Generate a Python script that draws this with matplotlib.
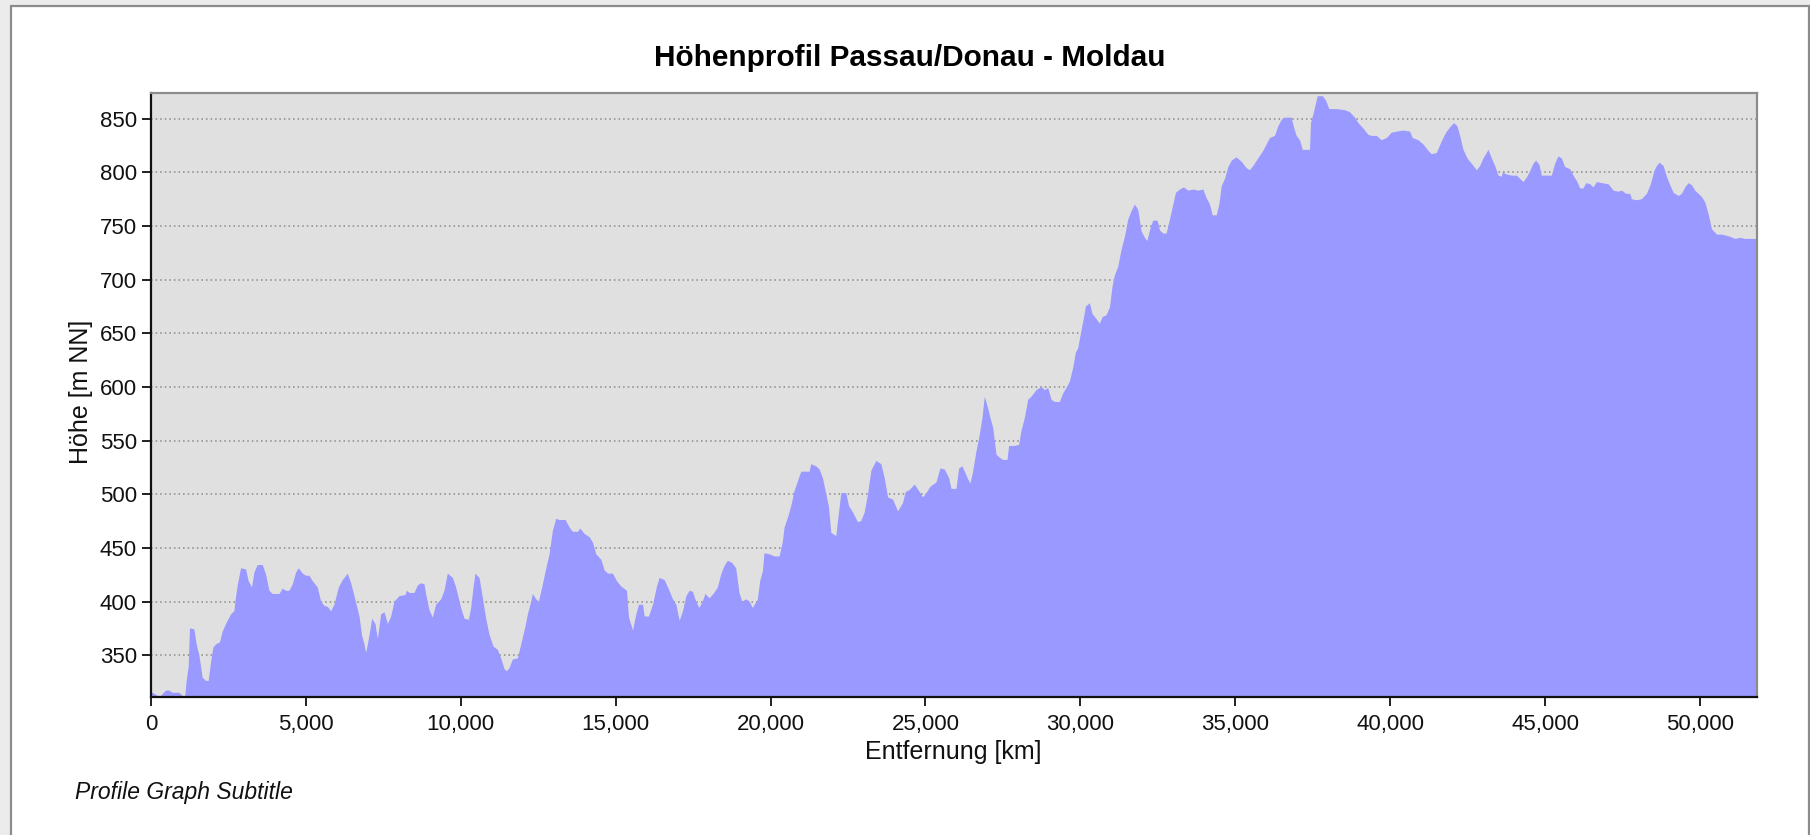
import matplotlib.pyplot as plt
from matplotlib.patches import Rectangle
from matplotlib.ticker import MultipleLocator, FuncFormatter

# Höhenprofil data
distance_km = [
    0, 214, 322, 484, 591, 699, 807, 914, 1022, 1108, 1151, 1216, 1259, 1399, 1474,
    1561, 1668, 1776, 1862, 1937, 2013, 2099, 2228, 2314, 2422, 2584, 2691, 2724,
    2799, 2907, 3068, 3154, 3262, 3338, 3445, 3607, 3715, 3822, 3930, 4145, 4253,
    4361, 4468, 4576, 4684, 4770, 4899, 5007, 5115, 5222, 5384, 5492, 5599, 5707,
    5815, 5922, 6062, 6192, 6353, 6461, 6569, 6730, 6816, 6892, 6946, 7000, 7075,
    7139, 7247, 7322, 7430, 7538, 7646, 7753, 7861, 8023, 8217, 8260, 8346, 8507,
    8615, 8723, 8830,
    8881, 8989, 9097, 9205, 9366, 9474, 9581, 9743, 9851, 10012, 10120, 10260,
    10335, 10411, 10475, 10605, 10691, 10820, 10928, 11057, 11197, 11305, 11412,
    11488, 11574, 11682, 11843, 11951, 12091, 12166, 12274, 12328, 12436, 12522,
    12629, 12737, 12866, 12974, 13082, 13189, 13383, 13513, 13620, 13782, 13857,
    13997, 14159, 14266, 14374, 14536, 14643, 14751, 14913, 15042, 15182, 15365,
    15430, 15559, 15667, 15753, 15882, 15936, 16076, 16205, 16334, 16420, 16582,
    16722, 16851, 16959, 17067, 17174, 17282, 17390, 17497,
    17597, 17704, 17812, 17898, 18028, 18157, 18297, 18405, 18512, 18620, 18760,
    18890, 18997, 19084, 19213, 19321, 19428, 19590, 19665, 19752, 19805, 19967,
    20129, 20291, 20398, 20452, 20560, 20668, 20775, 20883, 20991, 21260, 21314,
    21476, 21584, 21691, 21799, 21885, 21961, 22122, 22176, 22284, 22446, 22532,
    22661, 22823, 22930, 23038, 23146, 23254, 23415, 23577, 23685, 23793, 23954,
    24116, 24278, 24364, 24493, 24655, 24816, 24924, 25032, 25161, 25355, 25484,
    25625, 25765, 25840, 26002, 26088,
    26194, 26270, 26377, 26453, 26539, 26647, 26733, 26840, 26916, 27023, 27099,
    27185, 27293, 27400, 27508, 27648, 27702, 27885, 28025, 28100, 28208, 28316,
    28424, 28585, 28747, 28854, 28962, 29070, 29177, 29339, 29447, 29554, 29662,
    29770, 29856, 29931, 30039, 30114, 30179, 30308, 30394, 30502, 30631, 30718,
    30847, 30955, 31041, 31116, 31224, 31331, 31439, 31547, 31655, 31762, 31870,
    31978, 32085, 32161, 32268, 32354, 32494, 32570, 32678, 32785, 32893, 33001,
    33087, 33216, 33345, 33485, 33647, 33809, 33970, 34078, 34186, 34272, 34401,
    34487, 34562, 34670, 34778, 34886,
    35044, 35206, 35368, 35475, 35583, 35744, 35906, 36014, 36121, 36283, 36391,
    36498, 36606, 36821, 36897, 36983, 37091, 37177, 37414, 37446, 37522, 37597,
    37662, 37823, 37931, 38038, 38275, 38545, 38706, 38868, 38975, 39137, 39298,
    39406, 39568, 39729, 39891, 40052, 40214, 40429, 40645, 40731, 40914, 41076,
    41237, 41345, 41506, 41668, 41808, 41937, 42066, 42174, 42260, 42368, 42497,
    42637, 42799, 42907, 43014, 43176, 43284, 43391, 43499, 43607,
    43636, 43765, 43927, 44089, 44196, 44304, 44412, 44519, 44627, 44713, 44821,
    44896, 45219, 45327, 45435, 45542, 45650, 45812, 45919, 46049, 46135, 46243,
    46329, 46458, 46566, 46673, 46835, 47050, 47212, 47373, 47481, 47621, 47750,
    47804, 47966, 48127, 48289, 48418, 48526, 48612, 48698, 48827, 48935, 49043,
    49150, 49312, 49420, 49527, 49635, 49743, 49850, 49958, 50066, 50174, 50281,
    50389, 50551, 50712, 50852, 50981, 51143, 51304, 51466, 51843,
]
height_m = [
    316, 312, 312, 317, 317, 315, 315, 315, 312, 312, 326, 339, 375, 374, 360,
    350, 329, 326, 326, 343, 357, 360, 362, 372, 379, 388, 391, 400,
    415, 431, 430, 419, 413, 427, 434, 434, 425, 410, 407, 407, 412,
    410, 410, 416, 427, 431, 426, 424, 424, 419, 413, 400, 396, 395,
    391, 397, 413, 420, 426, 417, 405, 386, 368, 360, 352, 360, 372,
    384, 379, 365, 388, 390, 379, 386, 400, 405, 406, 410, 408, 408,
    415, 417, 416,
    407, 392, 385, 397, 402, 410, 426, 422, 413, 394, 384, 383,
    394, 413, 426, 422, 407, 384, 369, 358, 355, 347, 337,
    335, 338, 346, 347, 360, 377, 388, 400, 407, 402, 400,
    413, 428, 444, 466, 477, 476, 476, 469, 465, 465, 468,
    463, 460, 455, 444, 439, 429, 426, 426, 419, 414, 410,
    385, 373, 388, 397, 397, 386, 386, 397, 414, 422, 420,
    411, 402, 397, 382, 391, 405, 410, 409,
    400, 394, 400, 407, 403, 407, 413, 425, 433, 438, 436,
    431, 408, 400, 402, 400, 394, 402, 419, 428, 445, 444,
    442, 442, 456, 469, 478, 489, 503, 512, 521, 521, 528,
    526, 523, 515, 500, 488, 464, 461, 475, 501, 501, 489,
    483, 474, 475, 483, 500, 522, 531, 528, 515, 497, 495,
    484, 492, 502, 504, 509, 502, 497, 501, 507, 511, 524,
    523, 515, 505, 505, 524,
    526, 521, 514, 510, 521, 540, 552, 571, 591, 580, 571,
    562, 537, 534, 532, 532, 545, 545, 546, 559, 571, 588,
    591, 597, 600, 597, 599, 588, 586, 586, 594, 599, 605,
    618, 632, 636, 653, 664, 675, 678, 668, 664, 659, 665,
    667, 674, 694, 704, 712, 728, 740, 756, 764, 770, 765,
    745, 739, 736, 748, 755, 755, 746, 743, 743, 756, 770,
    781, 784, 786, 783, 784, 783, 784, 776, 770, 760, 760,
    770, 787, 794, 805, 811,
    814, 810, 804, 802, 806, 813, 820, 826, 832, 834, 843,
    849, 851, 851, 842, 834, 830, 821, 821, 846, 854, 863,
    871, 871, 867, 859, 859, 858, 856, 851, 846, 841, 835,
    834, 834, 830, 832, 837, 838, 839, 838, 832, 830, 826,
    820, 817, 818, 829, 837, 842, 846, 843, 834, 821, 813,
    808, 802, 806, 813, 821, 813, 806, 797, 796,
    800, 798, 797, 797, 794, 791, 795, 801, 808, 811, 807,
    797, 797, 808, 815, 813, 805, 803, 797, 791, 785, 785,
    790, 789, 786, 791, 790, 789, 783, 782, 783, 780, 780,
    775, 774, 775, 780, 789, 801, 806, 809, 806, 796, 788,
    781, 778, 780, 786, 790, 788, 783, 780, 777, 772, 761,
    747, 742, 742, 741, 740, 738, 739, 738, 738,
]

title = "Höhenprofil Passau/Donau - Moldau"
subtitle = "Profile Graph Subtitle"
x_label = "Entfernung [km]"
y_label = "Höhe [m NN]"

plt.rcParams["font.family"] = ["Liberation Sans", "DejaVu Sans"]

W, H = 1810, 835
fig = plt.figure(figsize=(W / 100, H / 100), dpi=100)
fig.patch.set_facecolor("#ececec")

# white panel with grey frame, kept behind the axes
fig.patches.append(Rectangle((11 / W, -0.05), 1798 / W, 1.05 - 6 / H,
                             transform=fig.transFigure, facecolor="white",
                             edgecolor="#8c8c8c", linewidth=1.6, zorder=-10))

ax = fig.add_axes([151 / W, 1 - 697 / H, (1757 - 151) / W, (697 - 93) / H])
ax.set_zorder(5)
ax.set_facecolor("#e0e0e0")
ax.fill_between(distance_km, height_m, 0, color="#9999ff", linewidth=0, zorder=2)

ax.set_xlim(0, 51843)
ax.set_ylim(311, 874)
ax.xaxis.set_major_locator(MultipleLocator(5000))
ax.yaxis.set_major_locator(MultipleLocator(50))
ax.xaxis.set_major_formatter(FuncFormatter(lambda v, p: f"{int(v):,}"))

ax.yaxis.grid(True, linestyle=(0, (1, 2)), color="#8a8a8a", linewidth=1.1, zorder=1)
ax.set_axisbelow(True)

ax.tick_params(axis="both", length=6.5, width=1.4, color="#202020",
               labelsize=16, labelcolor="#111111")
ax.tick_params(axis="y", pad=3.5)
ax.tick_params(axis="x", pad=6)

for side in ("left", "bottom"):
    ax.spines[side].set_color("#111111")
    ax.spines[side].set_linewidth(1.6)
for side in ("top", "right"):
    ax.spines[side].set_color("#8c8c8c")
    ax.spines[side].set_linewidth(1.6)

fig.text(910 / W, 1 - 58 / H, title, ha="center", va="center",
         fontsize=21.4, fontweight="bold", color="#000000")
fig.text(953 / W, 1 - 752 / H, x_label, ha="center", va="center",
         fontsize=18, color="#111111")
fig.text(81 / W, 1 - 392 / H, y_label, ha="center", va="center",
         rotation=90, fontsize=18, color="#111111")
fig.text(75 / W, 1 - 793 / H, subtitle, ha="left", va="center",
         fontsize=16.5, style="italic", color="#111111")

fig.savefig("out.png", dpi=100, facecolor=fig.get_facecolor())
plt.close(fig)
